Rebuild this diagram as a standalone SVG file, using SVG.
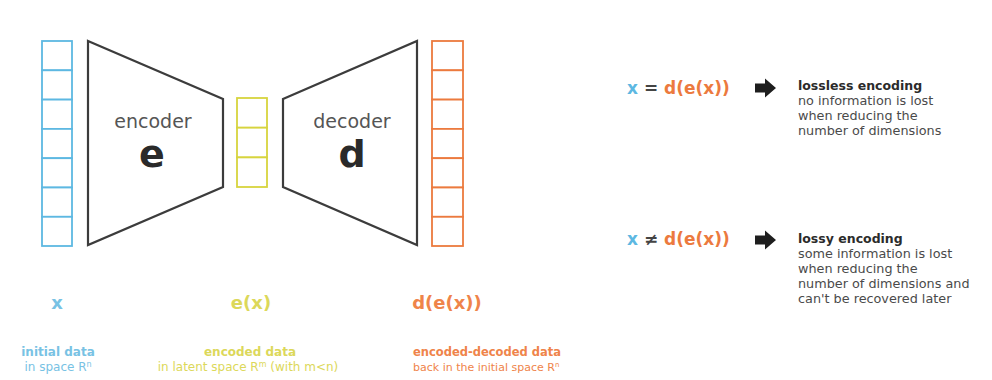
<svg xmlns="http://www.w3.org/2000/svg" width="992" height="380" viewBox="0 0 992 380">
<style>
.cell-b{fill:#ffffff;stroke:#5db8e2;stroke-width:1.8}
.cell-y{fill:#ffffff;stroke:#d7d43e;stroke-width:1.8}
.cell-o{fill:#ffffff;stroke:#ec7a3e;stroke-width:1.8}
.trap{fill:#ffffff;stroke:#3c3c3c;stroke-width:2.2;stroke-linejoin:miter}
.lbl{font-family:"DejaVu Sans","Liberation Sans",sans-serif;font-size:19px;fill:#555}
.big{font-family:"DejaVu Sans","Liberation Sans",sans-serif;font-size:38px;font-weight:bold;fill:#2a2a2a}
.var{font-family:"DejaVu Sans","Liberation Sans",sans-serif;font-size:18px;font-weight:bold}
.cap1{font-family:"DejaVu Sans","Liberation Sans",sans-serif;font-size:12px;font-weight:bold}
.cap2{font-family:"DejaVu Sans","Liberation Sans",sans-serif;font-size:12px}
.hd{font-family:"DejaVu Sans","Liberation Sans",sans-serif;font-size:12.5px;font-weight:bold;fill:#2b2b2b}
.bd{font-family:"DejaVu Sans","Liberation Sans",sans-serif;font-size:12.8px;fill:#4a4a4a}
.fx{font-family:"DejaVu Sans","Liberation Sans",sans-serif;font-size:17px;font-weight:bold}
.blue{fill:#5db8e2}.ora{fill:#ec7a3e}
.blueL{fill:#78c2e4}.yelL{fill:#dcd85a}.oraL{fill:#ef844a}
</style>
<defs>
<path id="arr" d="M-10,-4.5 H0 V-9.5 L11,0 L0,9.5 V4.5 H-10 Z" fill="#1e1e1e"/>
</defs>
<rect width="992" height="380" fill="#ffffff"/>

<g id="input-x">
<rect class="cell-b" x="42" y="41" width="30" height="29.3"/>
<rect class="cell-b" x="42" y="70.3" width="30" height="29.3"/>
<rect class="cell-b" x="42" y="99.6" width="30" height="29.3"/>
<rect class="cell-b" x="42" y="128.9" width="30" height="29.3"/>
<rect class="cell-b" x="42" y="158.2" width="30" height="29.3"/>
<rect class="cell-b" x="42" y="187.5" width="30" height="29.3"/>
<rect class="cell-b" x="42" y="216.8" width="30" height="29.2"/>
</g>

<g id="encoder">
<polygon class="trap" points="88,41 223,99 223,187 88,245"/>
<text class="lbl" x="153" y="128" text-anchor="middle">encoder</text>
<text class="big" x="152" y="167" text-anchor="middle">e</text>
</g>

<g id="latent">
<rect class="cell-y" x="237" y="98" width="30" height="29.7"/>
<rect class="cell-y" x="237" y="127.7" width="30" height="29.7"/>
<rect class="cell-y" x="237" y="157.4" width="30" height="29.6"/>
</g>

<g id="decoder">
<polygon class="trap" points="283,99 417,41 417,245 283,187"/>
<text class="lbl" x="352" y="128" text-anchor="middle">decoder</text>
<text class="big" x="352" y="167" text-anchor="middle">d</text>
</g>

<g id="output">
<rect class="cell-o" x="432" y="41" width="31" height="29.3"/>
<rect class="cell-o" x="432" y="70.3" width="31" height="29.3"/>
<rect class="cell-o" x="432" y="99.6" width="31" height="29.3"/>
<rect class="cell-o" x="432" y="128.9" width="31" height="29.3"/>
<rect class="cell-o" x="432" y="158.2" width="31" height="29.3"/>
<rect class="cell-o" x="432" y="187.5" width="31" height="29.3"/>
<rect class="cell-o" x="432" y="216.8" width="31" height="29.2"/>
</g>

<g id="connectors"></g>

<g id="labels">
<text class="var blueL" x="57" y="309" text-anchor="middle">x</text>
<text class="var yelL" x="251" y="309" text-anchor="middle">e(x)</text>
<text class="var oraL" x="447" y="309" text-anchor="middle">d(e(x))</text>
</g>

<g id="captions">
<text class="cap1 blueL" x="58" y="356" text-anchor="middle">initial data</text>
<text class="cap2 blueL" x="58" y="371" text-anchor="middle">in space R<tspan font-size="8" dy="-4">n</tspan></text>
<text class="cap1 yelL" x="250" y="356" text-anchor="middle">encoded data</text>
<text class="cap2 yelL" x="248" y="371" text-anchor="middle">in latent space R<tspan font-size="8" dy="-4">m</tspan><tspan dy="4"> (with m&lt;n)</tspan></text>
<text class="cap1 oraL" x="413" y="356" style="font-size:11.5px">encoded-decoded data</text>
<text class="cap2 oraL" x="413" y="371" style="font-size:11px">back in the initial space R<tspan font-size="7" dy="-4">n</tspan></text>
</g>

<g id="lossless">
<text class="fx" x="627" y="94"><tspan class="blue">x</tspan><tspan fill="#444"> = </tspan><tspan class="ora">d(e(x))</tspan></text>
<use href="#arr" x="765" y="88"/>
<text class="hd" x="798" y="90">lossless encoding</text>
<text class="bd" x="798" y="105">no information is lost</text>
<text class="bd" x="798" y="120">when reducing the</text>
<text class="bd" x="798" y="135">number of dimensions</text>
</g>

<g id="lossy">
<text class="fx" x="627" y="245"><tspan class="blue">x</tspan><tspan fill="#444"> ≠ </tspan><tspan class="ora">d(e(x))</tspan></text>
<use href="#arr" x="765" y="240"/>
<text class="hd" x="798" y="243">lossy encoding</text>
<text class="bd" x="798" y="258">some information is lost</text>
<text class="bd" x="798" y="273">when reducing the</text>
<text class="bd" x="798" y="288">number of dimensions and</text>
<text class="bd" x="798" y="303">can't be recovered later</text>
</g>
</svg>
